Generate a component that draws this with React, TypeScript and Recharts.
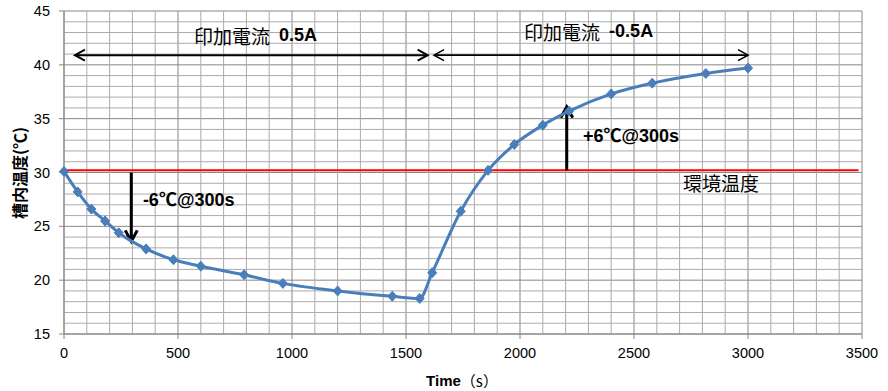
import { ComposedChart, Line, XAxis, YAxis, CartesianGrid, ReferenceLine, ReferenceDot } from "recharts";

// measured points (time in s, tank temperature in °C)
const TIME = [0, 60, 120, 180, 240, 360, 480, 600, 790, 960, 1200, 1440, 1560, 1615, 1740, 1860, 1975, 2100, 2215, 2400, 2580, 2815, 3000];
const TEMP = [30.1, 28.2, 26.6, 25.5, 24.4, 22.9, 21.9, 21.3, 20.5, 19.7, 19.0, 18.5, 18.3, 20.7, 26.4, 30.2, 32.6, 34.4, 35.7, 37.3, 38.3, 39.2, 39.7];

const X_TICKS = [0, 500, 1000, 1500, 2000, 2500, 3000, 3500];
const Y_TICKS = [15, 20, 25, 30, 35, 40, 45];
const MINOR_X = Array.from({ length: 34 }, (_, i) => (i + 1) * 100).filter((v) => v % 500 !== 0);
const MINOR_Y = Array.from({ length: 29 }, (_, i) => 16 + i).filter((v) => v % 5 !== 0);

const AMBIENT = 30.2;

const data = TIME.map((t, i) => ({ t, temp: TEMP[i] }));

const JP = "'Noto Sans CJK JP', sans-serif";
const EN = "'Liberation Sans', Arial, 'Noto Sans CJK JP', sans-serif";
const BLUE = "#4a7ebb";
const MAJOR = "#868686";
const MINOR = "#ababab";

function arrowShape(both: boolean, width: number, len: number, half: number) {
  return (p: any) => {
    const { x1, y1, x2, y2 } = p;
    const head = (x: number, y: number, a: number) => {
      const bx = x - len * Math.cos(a);
      const by = y - len * Math.sin(a);
      const px = -Math.sin(a) * half;
      const py = Math.cos(a) * half;
      return `M${bx + px},${by + py}L${x},${y}L${bx - px},${by - py}`;
    };
    const a = Math.atan2(y2 - y1, x2 - x1);
    return (
      <g>
        <line x1={x1} y1={y1} x2={x2} y2={y2} stroke="#000" strokeWidth={width} />
        <path d={head(x2, y2, a)} fill="none" stroke="#000" strokeWidth={width} />
        {both && <path d={head(x1, y1, a + Math.PI)} fill="none" stroke="#000" strokeWidth={width} />}
      </g>
    );
  };
}

function note(jp: string, en: string, jpSize: number, enSize: number) {
  return (p: any) => (
    <text x={p.cx} y={p.cy} dominantBaseline="central" fill="#000">
      {jp && (
        <tspan fontFamily={JP} fontSize={jpSize}>
          {jp}
        </tspan>
      )}
      {en && (
        <tspan fontFamily={EN} fontSize={enSize} fontWeight="bold" dx={jp ? 9 : 0}>
          {en}
        </tspan>
      )}
    </text>
  );
}

const Diamond = (p: any) => {
  const { cx, cy, index } = p;
  return <path key={index} d={`M${cx},${cy - 5}L${cx + 4.5},${cy}L${cx},${cy + 5}L${cx - 4.5},${cy}Z`} fill={BLUE} stroke={BLUE} />;
};

export default function App() {
  return (
    <div style={{ position: "absolute", left: 0, top: 0, background: "#fff" }}>
      <ComposedChart width={888} height={391} data={data} margin={{ top: 11, right: 26, bottom: 0, left: 0 }}>
        <CartesianGrid stroke={MAJOR} strokeWidth={1} />
        {MINOR_X.map((v) => (
          <ReferenceLine key={`mx${v}`} x={v} stroke={MINOR} strokeWidth={1} />
        ))}
        {MINOR_Y.map((v) => (
          <ReferenceLine key={`my${v}`} y={v} stroke={MINOR} strokeWidth={1} />
        ))}
        <XAxis
          type="number"
          dataKey="t"
          domain={[0, 3500]}
          ticks={X_TICKS}
          height={57}
          stroke={MAJOR}
          tickSize={5}
          tickMargin={9}
          tick={{ fill: "#000", fontSize: 14.5, fontFamily: EN }}
          label={{
            content: () => (
              <text x={462} y={380} textAnchor="middle" dominantBaseline="central" fontSize={15} fill="#000">
                <tspan fontFamily={EN} fontWeight="bold">Time</tspan>
                <tspan fontFamily={JP} fontWeight="normal">（s）</tspan>
              </text>
            ),
          }}
        />
        <YAxis
          type="number"
          domain={[15, 45]}
          ticks={Y_TICKS}
          width={64}
          stroke={MAJOR}
          tickSize={5}
          tickMargin={9}
          tick={{ fill: "#000", fontSize: 14.5, fontFamily: EN }}
          label={{
            content: () => (
              <text
                x={19}
                y={173}
                transform="rotate(-90 19 173)"
                textAnchor="middle"
                dominantBaseline="central"
                fontSize={16}
                fontWeight="bold"
                fontFamily={JP}
                fill="#000"
              >
                槽内温度(℃)
              </text>
            ),
          }}
        />
        <ReferenceLine
          segment={[{ x: 0, y: AMBIENT }, { x: 3485, y: AMBIENT }]}
          stroke="#ff0000"
          strokeWidth={2}
        />
        <ReferenceLine segment={[{ x: 48, y: 40.9 }, { x: 1595, y: 40.9 }]} shape={arrowShape(true, 2, 10, 5.5)} />
        <ReferenceLine segment={[{ x: 1623, y: 40.9 }, { x: 3000, y: 40.9 }]} shape={arrowShape(true, 1.6, 10, 5.5)} />
        <ReferenceLine segment={[{ x: 295, y: 30 }, { x: 295, y: 23.6 }]} shape={arrowShape(false, 3, 11, 6)} />
        <ReferenceLine segment={[{ x: 2205, y: AMBIENT }, { x: 2205, y: 36.1 }]} shape={arrowShape(false, 3, 11, 6)} />
        <ReferenceDot x={570} y={42.8} shape={note("印加電流", "0.5A", 19, 18)} />
        <ReferenceDot x={2018} y={43.1} shape={note("印加電流", "-0.5A", 19, 18)} />
        <ReferenceDot x={346} y={27.4} shape={note("", "-6℃@300s", 19, 18)} />
        <ReferenceDot x={2276} y={33.4} shape={note("", "+6℃@300s", 19, 18)} />
        <ReferenceDot x={2715} y={29.1} shape={note("環境温度", "", 19, 18)} />
        <Line
          type="monotone"
          dataKey="temp"
          stroke={BLUE}
          strokeWidth={3}
          dot={Diamond}
          activeDot={false}
          isAnimationActive={false}
        />
      </ComposedChart>
    </div>
  );
}
